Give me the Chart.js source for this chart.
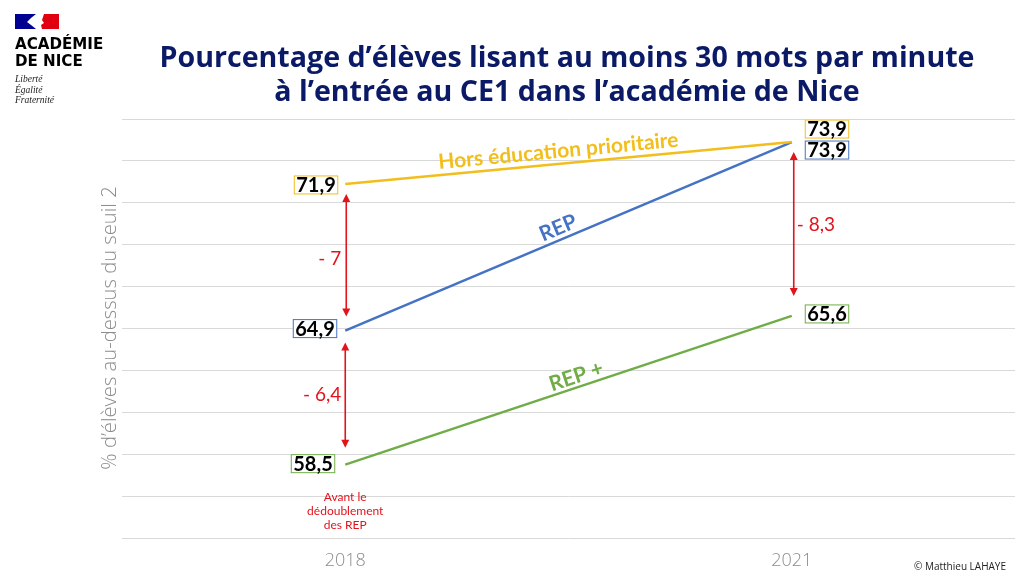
<!DOCTYPE html>
<html>
<head>
<meta charset="utf-8">
<script src="https://cdn.jsdelivr.net/npm/chart.js@4.4.1/dist/chart.umd.min.js"></script>
<style>
  html, body { margin: 0; padding: 0; background: #fff; }
  #wrap { width: 1024px; height: 576px; }
</style>
</head>
<body>
<div id="wrap"><canvas id="chart" width="1024" height="576"></canvas></div>
<script>
// data
var years = [2018, 2021];
var horsEp = [71.9, 73.9];
var rep = [64.9, 73.9];
var repPlus = [58.5, 65.6];
var seriesNames = ['Hors éducation prioritaire', 'REP', 'REP +'];
var yMin = 55, yMax = 75, yStep = 2;
var gapLabels2018 = ['- 7', '- 6,4'];
var gapLabel2021 = '- 8,3';

var YELLOW = '#F2BE1C';
var BLUE = '#4472C4';
var GREEN = '#70AD47';
var RED = '#E3131B';
var NAVY = '#0B1A66';

function toPoints(vals) {
    return vals.map(function (v, i) { return { x: years[i], y: v }; });
}
function fmt(v) {
    return v.toFixed(1).replace('.', ',');
}

function drawArrow(ctx, x, y1, y2) {
    ctx.save();
    ctx.strokeStyle = RED;
    ctx.fillStyle = RED;
    ctx.lineWidth = 1.6;
    ctx.beginPath();
    ctx.moveTo(x, y1 + 6);
    ctx.lineTo(x, y2 - 6);
    ctx.stroke();
    ctx.beginPath();
    ctx.moveTo(x, y1); ctx.lineTo(x - 4, y1 + 8); ctx.lineTo(x + 4, y1 + 8); ctx.closePath();
    ctx.fill();
    ctx.beginPath();
    ctx.moveTo(x, y2); ctx.lineTo(x - 4, y2 - 8); ctx.lineTo(x + 4, y2 - 8); ctx.closePath();
    ctx.fill();
    ctx.restore();
}

function drawValueBox(ctx, text, x, cy, side, color) {
    ctx.save();
    ctx.font = 'bold 20px Lato';
    var w = ctx.measureText(text).width + 5;
    var h = 19;
    var left = side === 'left' ? x - w : x;
    ctx.fillStyle = '#fff';
    ctx.fillRect(left, cy - h / 2, w, h);
    ctx.strokeStyle = color;
    ctx.lineWidth = 1;
    ctx.strokeRect(left + 0.5, cy - h / 2 + 0.5, w - 1, h - 1);
    ctx.fillStyle = '#000';
    ctx.textAlign = 'center';
    ctx.textBaseline = 'middle';
    ctx.fillText(text, left + w / 2, cy + 1);
    ctx.restore();
}

function drawLineLabel(ctx, p0, p1, t, lift, text, color) {
    var x = p0.x + (p1.x - p0.x) * t;
    var y = p0.y + (p1.y - p0.y) * t;
    var ang = Math.atan2(p1.y - p0.y, p1.x - p0.x);
    ctx.save();
    ctx.translate(x, y);
    ctx.rotate(ang);
    ctx.font = 'bold 21px Lato';
    ctx.fillStyle = color;
    ctx.textAlign = 'center';
    ctx.textBaseline = 'alphabetic';
    ctx.fillText(text, 0, -lift);
    ctx.restore();
}

// fit a line of text to a given width
function fitFont(ctx, text, weight, family, width) {
    ctx.font = weight + ' 20px ' + family;
    var size = 20 * width / ctx.measureText(text).width;
    return weight + ' ' + size.toFixed(1) + 'px ' + family;
}

var decor = {
    id: 'decor',
    beforeDraw: function (chart) {
        var ctx = chart.ctx;
        ctx.save();
        ctx.fillStyle = '#fff';
        ctx.fillRect(0, 0, chart.width, chart.height);
        ctx.restore();
    },
    afterDraw: function (chart) {
        var ctx = chart.ctx;
        var a = chart.getDatasetMeta(0).data;
        var b = chart.getDatasetMeta(1).data;
        var c = chart.getDatasetMeta(2).data;

        // logo
        ctx.save();
        ctx.fillStyle = '#000091';
        ctx.fillRect(15, 14, 21, 15);
        ctx.fillStyle = '#E1000F';
        ctx.fillRect(40, 14, 19, 15);
        ctx.fillStyle = '#fff';
        ctx.beginPath();
        ctx.moveTo(40, 14); ctx.lineTo(44, 14); ctx.lineTo(42, 20); ctx.lineTo(44, 23);
        ctx.lineTo(41, 25); ctx.lineTo(42, 29); ctx.lineTo(40, 29); ctx.closePath();
        ctx.fill();
        ctx.beginPath();
        ctx.moveTo(36, 14); ctx.lineTo(31, 18); ctx.lineTo(27, 22); ctx.lineTo(31, 25);
        ctx.lineTo(36, 29); ctx.closePath();
        ctx.fill();
        ctx.fillStyle = '#000';
        ctx.textBaseline = 'alphabetic';
        ctx.font = fitFont(ctx, 'ACADÉMIE', 'bold', '"DejaVu Sans"', 88);
        ctx.fillText('ACADÉMIE', 15, 49);
        ctx.fillText('DE NICE', 15, 66);
        ctx.font = 'italic 9.5px "Liberation Serif"';
        ctx.fillStyle = '#222';
        ctx.fillText('Liberté', 15, 82);
        ctx.fillText('Égalité', 15, 93);
        ctx.fillText('Fraternité', 15, 103);
        ctx.restore();

        // title
        var t1 = 'Pourcentage d\u2019élèves lisant au moins 30 mots par minute';
        var t2 = 'à l\u2019entrée au CE1 dans l\u2019académie de Nice';
        ctx.save();
        ctx.fillStyle = NAVY;
        ctx.textAlign = 'center';
        ctx.textBaseline = 'alphabetic';
        ctx.font = fitFont(ctx, t1, 'bold', '"Open Sans"', 815);
        ctx.fillText(t1, 567, 67);
        ctx.fillText(t2, 567, 101);
        ctx.restore();

        // y axis title
        var yt = '% d\u2019élèves au-dessus du seuil 2';
        ctx.save();
        ctx.translate(116, 328);
        ctx.rotate(-Math.PI / 2);
        ctx.font = fitFont(ctx, yt, '300', '"Open Sans"', 283);
        ctx.fillStyle = '#8C8C8C';
        ctx.textAlign = 'center';
        ctx.textBaseline = 'alphabetic';
        ctx.fillText(yt, 0, 0);
        ctx.restore();

        // series names along lines
        drawLineLabel(ctx, a[0], a[1], 0.48, 6, seriesNames[0], YELLOW);
        drawLineLabel(ctx, b[0], b[1], 0.487, 5, seriesNames[1], BLUE);
        drawLineLabel(ctx, c[0], c[1], 0.525, 4, seriesNames[2], GREEN);

        // gap arrows
        drawArrow(ctx, a[0].x + 1, a[0].y + 10, b[0].y - 14);
        drawArrow(ctx, b[0].x, b[0].y + 12, c[0].y - 17);
        drawArrow(ctx, a[1].x + 2, a[1].y + 10, c[1].y - 20);

        ctx.save();
        ctx.fillStyle = RED;
        ctx.font = '19px Lato';
        ctx.textBaseline = 'middle';
        ctx.textAlign = 'right';
        ctx.fillText(gapLabels2018[0], a[0].x - 4, (a[0].y + b[0].y) / 2 + 2);
        ctx.fillText(gapLabels2018[1], b[0].x - 4, (b[0].y + c[0].y) / 2 - 3);
        ctx.textAlign = 'left';
        ctx.fillText(gapLabel2021, a[1].x + 5, (a[1].y + c[1].y) / 2 - 4);
        ctx.font = '12px Lato';
        ctx.textAlign = 'center';
        ctx.fillText('Avant le', c[0].x, 497);
        ctx.fillText('dédoublement', c[0].x, 511);
        ctx.fillText('des REP', c[0].x, 525);
        ctx.restore();

        // value boxes
        drawValueBox(ctx, fmt(horsEp[0]), a[0].x - 7, a[0].y + 1, 'left', YELLOW);
        drawValueBox(ctx, fmt(rep[0]), b[0].x - 8, b[0].y - 2, 'left', BLUE);
        drawValueBox(ctx, fmt(repPlus[0]), c[0].x - 10, c[0].y - 1, 'left', GREEN);
        drawValueBox(ctx, fmt(horsEp[1]), a[1].x + 13, a[1].y - 13, 'right', YELLOW);
        drawValueBox(ctx, fmt(rep[1]), b[1].x + 13, b[1].y + 8, 'right', BLUE);
        drawValueBox(ctx, fmt(repPlus[1]), c[1].x + 13, c[1].y - 2, 'right', GREEN);

        // credit
        ctx.save();
        ctx.fillStyle = '#222';
        ctx.font = '10px "Open Sans"';
        ctx.textAlign = 'right';
        ctx.textBaseline = 'middle';
        ctx.fillText('\u00A9 Matthieu LAHAYE', 1006, 567);
        ctx.restore();
    }
};

new Chart(document.getElementById('chart'), {
    type: 'line',
    data: {
        datasets: [
            { label: seriesNames[0], data: toPoints(horsEp), borderColor: YELLOW, borderWidth: 2.5, pointRadius: 0 },
            { label: seriesNames[1], data: toPoints(rep), borderColor: BLUE, borderWidth: 2.5, pointRadius: 0 },
            { label: seriesNames[2], data: toPoints(repPlus), borderColor: GREEN, borderWidth: 2.5, pointRadius: 0 }
        ]
    },
    options: {
        responsive: false,
        animation: false,
        devicePixelRatio: 1,
        layout: { padding: { left: 122, right: 9, top: 119, bottom: 0 } },
        plugins: {
            legend: { display: false },
            tooltip: { enabled: false }
        },
        scales: {
            x: {
                type: 'linear',
                min: 2016.5,
                max: 2022.5,
                afterBuildTicks: function (scale) {
                    scale.ticks = years.map(function (v) { return { value: v }; });
                },
                afterFit: function (scale) { scale.height = 38; },
                grid: { display: false, drawTicks: false, tickLength: 0 },
                border: { display: false },
                ticks: {
                    padding: 12,
                    color: '#8C8C8C',
                    font: { family: 'Open Sans', size: 18, weight: 300 },
                    callback: function (v) { return String(v); }
                }
            },
            y: {
                min: yMin,
                max: yMax,
                grid: { color: '#D9D9D9', lineWidth: 1, drawTicks: false, tickLength: 0 },
                border: { display: false },
                ticks: { display: false, stepSize: yStep }
            }
        }
    },
    plugins: [decor]
});
</script>
</body>
</html>
